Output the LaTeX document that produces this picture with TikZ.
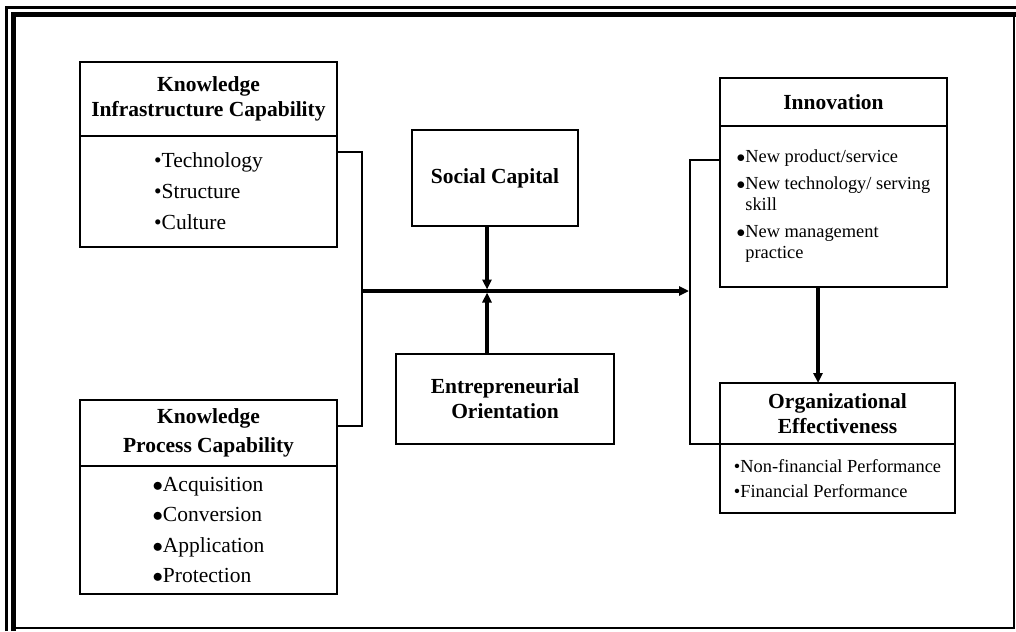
\documentclass[tikz,border=0pt]{standalone}
\usepackage{fontspec}
\setmainfont{Liberation Serif}
\usetikzlibrary{arrows.meta,calc}

\tikzset{
  box/.style={draw,line width=1.8pt,inner sep=2pt,outer sep=0pt,align=center},
  ttl/.style={font=\bfseries\fontsize{21.5}{25}\selectfont},
  lst/.style={align=left,font=\fontsize{21.5}{31}\selectfont},
  sml/.style={align=left,font=\fontsize{18.4}{21}\selectfont},
  link/.style={line width=1.8pt},
  flow/.style={line width=3.2pt,-{Triangle[length=10pt,width=9pt]},shorten >=1.5pt},
}

\begin{document}
\begin{tikzpicture}[x=1pt,y=1pt,yscale=-1]
	\useasboundingbox (0,0) rectangle (1016,631);

	% page frame
	\draw[line width=3.5pt] (6.5,631) -- (6.5,7.5) -- (1016,7.5);
	\draw[line width=5.5pt] (13.5,631) -- (13.5,14.5) -- (1016,14.5);
	\draw[line width=1.8pt] (1014,17) -- (1014,628) -- (16,628);

	% knowledge capabilities
	\node[box,ttl,minimum width=257pt,minimum height=74pt] (kicT) at (208.5,99) {Knowledge\\Infrastructure Capability};
	\node[box,lst,minimum width=257pt,minimum height=111pt,anchor=north] (kicB) at (kicT.south) {\textbullet Technology\\\textbullet Structure\\\textbullet Culture};

	\node[box,ttl,minimum width=257pt,minimum height=66pt] (kpcT) at (208.5,433) {Knowledge\\[4pt]Process Capability};
	\node[box,lst,font=\fontsize{21.5}{30.5}\selectfont,minimum width=257pt,minimum height=128pt,anchor=north] (kpcB) at (kpcT.south) {$\bullet$Acquisition\\$\bullet$Conversion\\$\bullet$Application\\$\bullet$Protection};

	% moderators
	\node[box,ttl,minimum width=166pt,minimum height=96pt] (sc) at (495,178) {Social Capital};
	\node[box,ttl,minimum width=218pt,minimum height=90pt] (eo) at (505,399) {Entrepreneurial\\Orientation};

	% outcomes
	\node[box,ttl,minimum width=227pt,minimum height=48pt] (innT) at (833.5,102) {Innovation};
	\node[box,sml,minimum width=227pt,minimum height=161pt,anchor=north] (innB) at (innT.south) {$\bullet$New product/service\\[6pt]$\bullet$New technology/ serving\\\hphantom{$\bullet$}skill\\[6pt]$\bullet$New management\\\hphantom{$\bullet$}practice};

	\node[box,ttl,minimum width=235pt,minimum height=61pt] (oeT) at (837.5,413.5) {Organizational\\Effectiveness};
	\node[box,sml,font=\fontsize{18.4}{25}\selectfont,minimum width=235pt,minimum height=69pt,anchor=north] (oeB) at (oeT.south) {\textbullet Non-financial Performance\\\textbullet Financial Performance};

	% junctions
	\coordinate (jL) at (362,291);
	\coordinate (jM) at (487,291);
	\coordinate (jR) at (690,291);

	% connectors
	\draw[link] ($(kicB.north east)+(0,16)$) -| (jL) |- ($(kpcT.east)+(0,-7)$);
	\draw[link] ($(innB.north west)+(0,34)$) -| (jR) |- (oeT.south west);
	\draw[flow,shorten >=1pt] (jL) -- (jR);
	\draw[flow] (sc.south -| jM) -- (jM);
	\draw[flow] (eo.north -| jM) -- (jM);
	\draw[flow,shorten >=0pt] ($(innB.south)+(-15.5,0)$) coordinate (a1) -- (a1 |- oeT.north);

\end{tikzpicture}
\end{document}
